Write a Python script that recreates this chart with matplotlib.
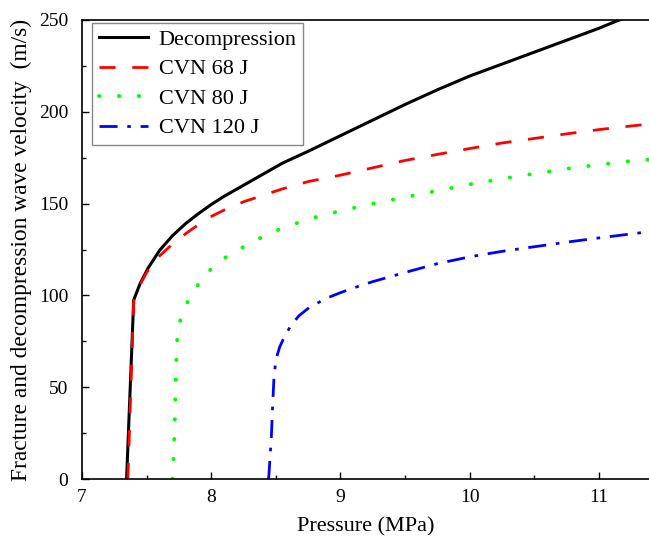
import numpy as np
import matplotlib
matplotlib.use("Agg")
import matplotlib.pyplot as plt

plt.rcParams['font.family'] = ['Liberation Serif', 'DejaVu Serif']

# Decompression wave velocity (black)
p_dec = [7.345, 7.40, 7.45, 7.51, 7.60, 7.70, 7.80, 7.90, 8.00, 8.10, 8.25, 8.40, 8.55, 8.75,
         9.00, 9.25, 9.50, 9.75, 10.00, 10.25, 10.50, 10.75, 11.00, 11.12, 11.30]
v_dec = [0, 97.5, 106.5, 114.7, 124.5, 132.5, 139.0, 144.5, 149.5, 154.0, 160.0, 166.0, 172.0, 178.5,
         187.0, 195.5, 204.0, 212.0, 219.5, 226.0, 232.5, 239.0, 245.5, 249.0, 254.0]

# Fracture velocity, CVN 68 J (red)
p_68 = [7.355, 7.40, 7.45, 7.50, 7.60, 7.70, 7.80, 7.90, 8.00, 8.10, 8.25, 8.40, 8.55, 8.75,
        9.00, 9.25, 9.50, 9.75, 10.00, 10.25, 10.50, 10.75, 11.00, 11.25, 11.39]
v_68 = [0, 97.0, 106.0, 112.5, 121.5, 128.0, 133.5, 138.5, 143.0, 146.5, 151.0, 154.5, 158.0, 162.0,
        165.5, 169.5, 173.5, 176.8, 180.0, 183.0, 185.5, 188.0, 190.3, 192.3, 193.3]

# Fracture velocity, CVN 80 J (green)
p_80 = [7.70, 7.71, 7.718, 7.725, 7.735, 7.75, 7.78, 7.82, 7.87, 7.94, 8.04, 8.18, 8.325, 8.45,
        8.60, 8.80, 9.00, 9.25, 9.50, 9.75, 10.00, 10.25, 10.50, 10.75, 11.00, 11.25, 11.39]
v_80 = [0, 15.0, 30.0, 55.0, 75.0, 84.0, 91.0, 97.0, 103.0, 110.0, 117.5, 123.8, 129.3, 133.8,
        138.0, 142.5, 146.0, 150.0, 153.5, 157.0, 160.5, 163.5, 166.3, 169.0, 171.2, 173.2, 174.0]

# Fracture velocity, CVN 120 J (blue)
p_120 = [8.444, 8.455, 8.465, 8.475, 8.485, 8.50, 8.53, 8.57, 8.62, 8.68, 8.76, 8.89, 9.00, 9.12,
         9.25, 9.50, 9.75, 10.00, 10.25, 10.50, 10.75, 11.00, 11.25, 11.39]
v_120 = [0, 12.0, 23.0, 40.0, 55.0, 65.0, 72.0, 78.0, 84.0, 89.0, 93.5, 98.4, 101.5, 104.5,
         107.5, 112.5, 117.3, 121.0, 124.0, 126.5, 129.0, 131.3, 133.5, 134.7]

fig = plt.figure(figsize=(6.49, 5.45), dpi=100)
ax = fig.add_axes([82/649, 1-479/545, 1-82/649, (479-20)/545])

ax.plot(p_dec, v_dec, color='black', lw=2.2, label='Decompression')
ax.plot(p_68, v_68, color='red', lw=2.0, dashes=(5.8, 6), label='CVN 68 J')
ax.plot(p_80, v_80, color='#00ff00', lw=2.8, dashes=(0.1, 5.0), dash_capstyle='round', label='CVN 80 J')
ax.plot(p_120, v_120, color='blue', lw=2.0, dashes=(6.5, 3.5, 1.3, 3.5), label='CVN 120 J')

ax.set_xlim(7, 7 + 567/129.25)
ax.set_ylim(0, 250)
ax.set_xticks([7, 8, 9, 10, 11])
ax.set_xticks([7.5, 8.5, 9.5, 10.5], minor=True)
ax.set_yticks([0, 50, 100, 150, 200, 250])
ax.set_yticks([25, 75, 125, 175, 225], minor=True)
ax.tick_params(which='both', direction='in', labelsize=14, width=1.0)
ax.tick_params(which='major', length=5)
ax.tick_params(which='minor', length=3)
ax.tick_params(axis='x', pad=7)
ax.tick_params(axis='y', pad=10)
ax.spines['right'].set_visible(False)
for s in ['left', 'bottom', 'top']:
    ax.spines[s].set_linewidth(1.2)

ax.set_xlabel('Pressure (MPa)', fontsize=16, labelpad=8)
ax.set_ylabel('Fracture and decompression wave velocity  (m/s)', fontsize=16.8, labelpad=5)

leg = ax.legend(loc='upper left', bbox_to_anchor=(0.0176, 0.994), borderaxespad=0,
                fontsize=16, handlelength=2.2, handletextpad=0.5, labelspacing=0.4,
                borderpad=0.3, fancybox=False, framealpha=1)
leg.get_frame().set_edgecolor('#888888')
leg.get_frame().set_linewidth(1.0)

fig.savefig('out.png', dpi=100)
